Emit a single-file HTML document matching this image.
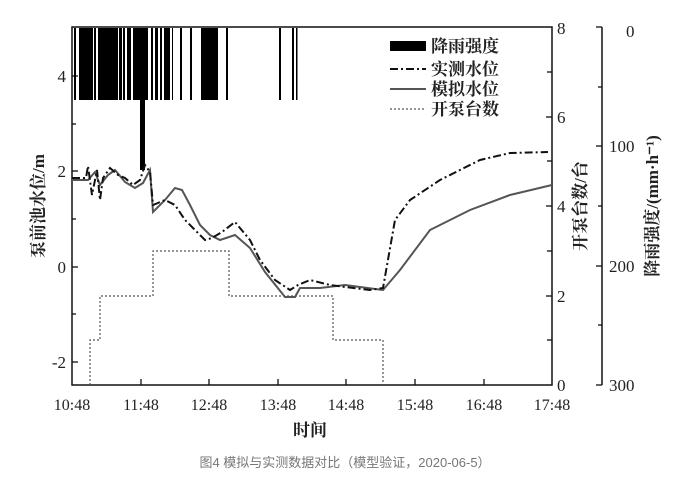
<!DOCTYPE html><html><head><meta charset="utf-8"><style>body{margin:0;background:#fff}svg{display:block}text{font-family:"Liberation Serif","Noto Serif CJK SC",serif;fill:#222}</style></head><body>
<svg width="691" height="485" viewBox="0 0 691 485">
<g stroke="#111" stroke-width="1.5" fill="none">
<rect x="72" y="27" width="480" height="358"/>
<line x1="602" y1="27" x2="602" y2="385"/>
</g>
<g stroke="#111" stroke-width="1.3">
<line x1="72" y1="76" x2="78" y2="76"/><line x1="72" y1="124" x2="76" y2="124"/><line x1="72" y1="171" x2="78" y2="171"/><line x1="72" y1="219" x2="76" y2="219"/><line x1="72" y1="267" x2="78" y2="267"/><line x1="72" y1="314" x2="76" y2="314"/><line x1="72" y1="362" x2="78" y2="362"/>
<line x1="141" y1="385" x2="141" y2="379"/><line x1="209" y1="385" x2="209" y2="379"/><line x1="278" y1="385" x2="278" y2="379"/><line x1="346" y1="385" x2="346" y2="379"/><line x1="415" y1="385" x2="415" y2="379"/><line x1="484" y1="385" x2="484" y2="379"/>
<line x1="552" y1="72" x2="547" y2="72"/><line x1="552" y1="117" x2="546" y2="117"/><line x1="552" y1="161" x2="547" y2="161"/><line x1="552" y1="206" x2="546" y2="206"/><line x1="552" y1="251" x2="547" y2="251"/><line x1="552" y1="296" x2="546" y2="296"/><line x1="552" y1="340" x2="547" y2="340"/>
<line x1="602" y1="27" x2="596" y2="27"/><line x1="602" y1="87" x2="598" y2="87"/><line x1="602" y1="146" x2="596" y2="146"/><line x1="602" y1="206" x2="598" y2="206"/><line x1="602" y1="266" x2="596" y2="266"/><line x1="602" y1="325" x2="598" y2="325"/><line x1="602" y1="385" x2="596" y2="385"/>
</g>
<g font-size="17" text-anchor="end"><text x="66" y="82">4</text><text x="66" y="177">2</text><text x="66" y="273">0</text><text x="66" y="368">-2</text></g>
<g font-size="17"><text x="557" y="34">8</text><text x="557" y="123">6</text><text x="557" y="212">4</text><text x="557" y="302">2</text><text x="557" y="391">0</text>
<text x="626" y="37">0</text><text x="609" y="152">100</text><text x="609" y="272">200</text><text x="609" y="391">300</text></g>
<g font-size="16" text-anchor="middle"><text x="72" y="410">10:48</text><text x="141" y="410">11:48</text><text x="209" y="410">12:48</text><text x="278" y="410">13:48</text><text x="346" y="410">14:48</text><text x="415" y="410">15:48</text><text x="484" y="410">16:48</text><text x="552" y="410">17:48</text></g>
<text x="310" y="436" font-size="17" font-weight="bold" text-anchor="middle">时间</text>
<text transform="translate(44,206) rotate(-90)" font-size="17" font-weight="bold" text-anchor="middle">泵前池水位/m</text>
<text transform="translate(586,206) rotate(-90)" font-size="17" font-weight="bold" text-anchor="middle">开泵台数/台</text>
<text transform="translate(658,206) rotate(-90)" font-size="17" font-weight="bold" text-anchor="middle">降雨强度/(mm·h⁻¹)</text>
<g fill="#000">
<rect x="74" y="28" width="2" height="72"/><rect x="79" y="28" width="14" height="72"/><rect x="94" y="28" width="2" height="72"/><rect x="98" y="28" width="20" height="72"/><rect x="119" y="28" width="3" height="72"/><rect x="123" y="28" width="2" height="72"/><rect x="127" y="28" width="4" height="72"/><rect x="133" y="28" width="15" height="72"/><rect x="140" y="28" width="5" height="142"/><rect x="151" y="28" width="2" height="72"/><rect x="155" y="28" width="3" height="72"/><rect x="160" y="28" width="2" height="72"/><rect x="164" y="28" width="6" height="72"/><rect x="172" y="28" width="1" height="72"/><rect x="180" y="28" width="2" height="72"/><rect x="190" y="28" width="2" height="72"/><rect x="201" y="28" width="17" height="72"/><rect x="226" y="28" width="2" height="72"/><rect x="279" y="28" width="2" height="72"/><rect x="292" y="28" width="2" height="72"/><rect x="296" y="28" width="1.5" height="72"/>
</g>
<polyline fill="none" stroke="#555" stroke-width="1.2" stroke-dasharray="2,2" points="90,385 90,340 100,340 100,296 153,296 153,251 229,251 229,296 333,296 333,340 383,340 383,385"/>
<polyline fill="none" stroke="#555" stroke-width="2" points="72,180 88,180 95,172 100,185 108,175 115,170 125,182 135,188 143,183 150,170 153,212 165,200 175,188 182,190 190,205 200,225 210,235 220,240 235,235 250,248 265,272 285,297 295,297 300,288 320,288 345,285 360,287 383,290 400,270 430,230 470,210 510,195 552,185"/>
<polyline fill="none" stroke="#111" stroke-width="2" stroke-dasharray="8,3,2,3" points="72,178 86,178 88,166 92,195 97,170 100,200 103,178 110,168 118,175 125,178 133,185 140,180 145,165 150,172 153,205 165,200 175,205 185,220 195,230 205,240 212,238 222,232 235,222 250,240 260,260 275,280 290,290 298,285 310,280 330,285 345,287 370,290 383,288 395,220 410,200 440,180 480,160 510,153 548,152"/>
<rect x="390" y="41" width="36" height="10" fill="#000"/>
<line x1="390" y1="69" x2="426" y2="69" stroke="#111" stroke-width="2" stroke-dasharray="8,3,2,3"/>
<line x1="390" y1="89" x2="426" y2="89" stroke="#555" stroke-width="2"/>
<line x1="390" y1="109" x2="426" y2="109" stroke="#555" stroke-width="1.2" stroke-dasharray="2,2"/>
<g font-size="17" font-weight="bold"><text x="431" y="52">降雨强度</text><text x="431" y="75">实测水位</text><text x="431" y="95">模拟水位</text><text x="431" y="115">开泵台数</text></g>
<text x="345" y="467" font-size="13" text-anchor="middle" style="font-family:'Liberation Sans','Noto Sans CJK SC',sans-serif;fill:#777">图4 模拟与实测数据对比（模型验证，2020-06-5）</text>
</svg></body></html>
